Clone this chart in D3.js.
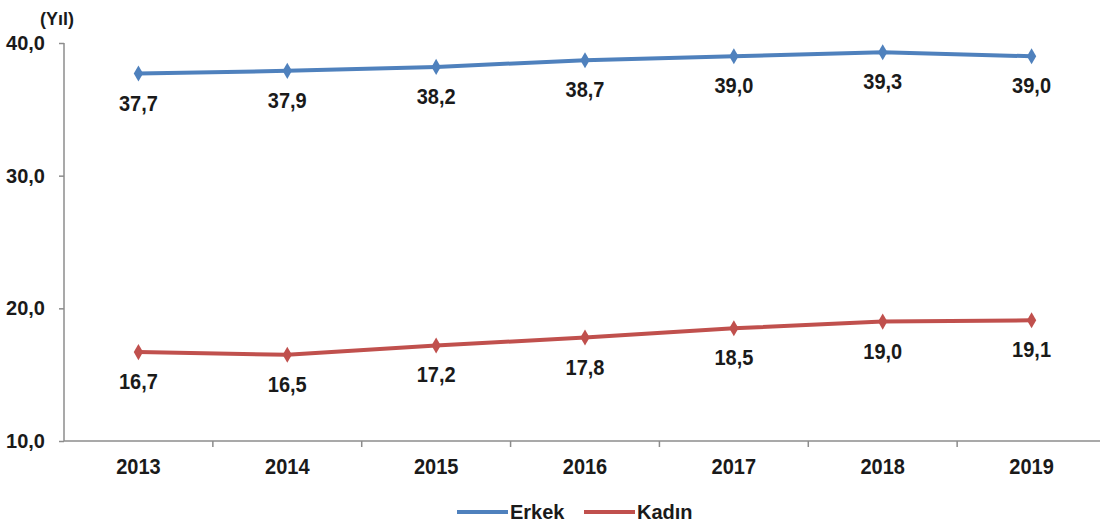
<!DOCTYPE html>
<html>
  <head>
    <meta charset="utf-8">
    <title>Erkek / Kadın</title>
    <script src="https://cdn.jsdelivr.net/npm/d3@7"></script>
    <style>
      body { margin: 0; background: #fff; }
      svg { display: block; font-family: "Liberation Sans", Arial, sans-serif; font-weight: bold; }
      .axis path, .axis line { stroke: #8c8c8c; stroke-width: 1.5; }
      .axis text { font-size: 20px; fill: #1a1a1a; font-weight: bold; }
      .label { font-size: 20px; fill: #1a1a1a; }
    </style>
  </head>
  <body>
    <svg id="chart" width="1100" height="532"></svg>

    <script>
      // data
      years = ["2013", "2014", "2015", "2016", "2017", "2018", "2019"];
      erkek = [37.7, 37.9, 38.2, 38.7, 39.0, 39.3, 39.0];
      kadin = [16.7, 16.5, 17.2, 17.8, 18.5, 19.0, 19.1];
      yTicks = [10, 20, 30, 40];
      seriesNames = ["Erkek", "Kadın"];
      seriesColours = ["#4f81bd", "#c0504d"];

      svg = d3.select("#chart");
      fmt = function(d) { return d.toFixed(1).replace(".", ","); };

      x = d3.scaleBand()
        .domain(years)
        .range([64, 1106]);

      y = d3.scaleLinear()
        .domain([10, 40])
        .range([441, 43]);

      cx = function(i) { return x(years[i]) + x.bandwidth() / 2; };

      // y axis
      yAxis = svg.append("g")
        .attr("class", "axis")
        .attr("transform", "translate(64,0)")
        .call(d3.axisLeft(y).tickValues(yTicks).tickSize(5).tickPadding(14).tickFormat(fmt));
      yAxis.select(".domain").attr("d", "M0,43V441");

      // x axis
      xAxis = svg.append("g")
        .attr("class", "axis")
        .attr("transform", "translate(0,441)");
      xAxis.append("path")
        .attr("class", "domain")
        .attr("d", "M64,0H1106");
      xAxis.selectAll(".tk")
        .data(years.slice(1))
      .enter().append("line")
        .attr("x1", function(d) { return x(d); })
        .attr("x2", function(d) { return x(d); })
        .attr("y1", 0)
        .attr("y2", 6);
      xAxis.selectAll("text")
        .data(years)
      .enter().append("text")
        .attr("transform", function(d, i) { return "translate(" + cx(i) + ",33) scale(1,1.1)"; })
        .attr("text-anchor", "middle")
        .text(function(d) { return d; });

      svg.append("text")
        .attr("x", 40)
        .attr("y", 25)
        .style("font-size", "18px")
        .style("fill", "#1a1a1a")
        .text("(Yıl)");

      // series
      line = d3.line()
        .x(function(d, i) { return cx(i); })
        .y(function(d) { return y(d); });

      diamond = d3.symbol().type(d3.symbolDiamond).size(75);

      [erkek, kadin].forEach(function(values, s) {
        g = svg.append("g");
        g.append("path")
          .datum(values)
          .attr("d", line)
          .attr("fill", "none")
          .attr("stroke", seriesColours[s])
          .attr("stroke-width", 4);
        g.selectAll(".pt")
          .data(values)
        .enter().append("path")
          .attr("d", diamond)
          .attr("fill", seriesColours[s])
          .attr("transform", function(d, i) {
            return "translate(" + cx(i) + "," + y(d) + ")";
          });
        g.selectAll(".label")
          .data(values)
        .enter().append("text")
          .attr("class", "label")
          .attr("text-anchor", "middle")
          .attr("transform", function(d, i) { return "translate(" + cx(i) + "," + (y(d) + 37) + ") scale(1,1.1)"; })
          .text(fmt);
      });

      // legend
      legend = svg.append("g")
        .attr("transform", "translate(457,512)");
      legendItems = legend.selectAll("g")
        .data(seriesNames)
      .enter().append("g")
        .attr("transform", function(d, i) { return "translate(" + i * 127 + ",0)"; });
      legendItems.append("line")
        .attr("x1", 0)
        .attr("x2", 51)
        .attr("stroke", function(d, i) { return seriesColours[i]; })
        .attr("stroke-width", 4);
      legendItems.append("text")
        .attr("x", 53)
        .attr("y", 7)
        .style("font-size", "20px")
        .style("fill", "#1a1a1a")
        .text(function(d) { return d; });
    </script>
  </body>
</html>
